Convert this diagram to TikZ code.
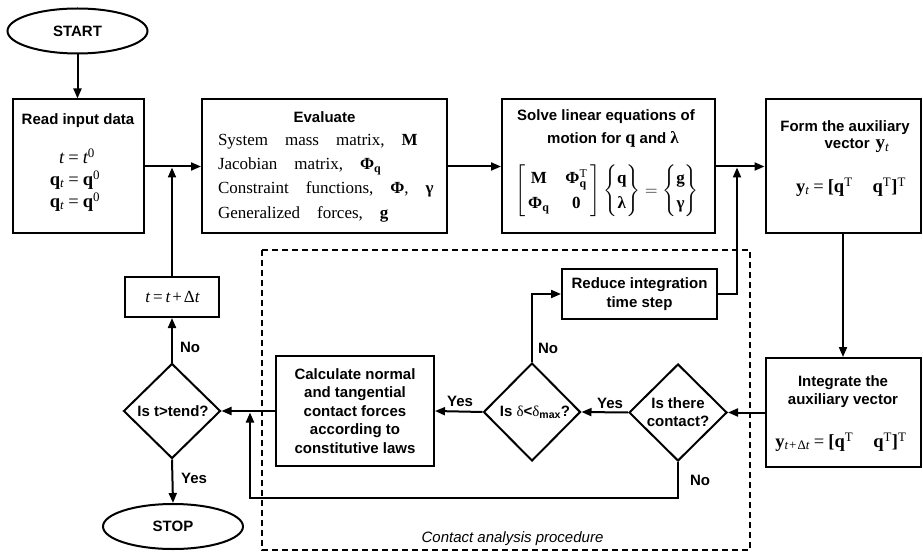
\documentclass[tikz,border=0pt]{standalone}
\usepackage{amsmath}
\usepackage{fontspec}
\setmainfont{Liberation Serif}
\setsansfont{Liberation Sans}
\usetikzlibrary{arrows.meta,shapes.geometric}
\newcommand\widesp{\spaceskip=17pt plus 3pt minus 2pt\relax}
\newcommand\eqs{\hspace{4pt}=\hspace{4pt}}
\begin{document}
\begin{tikzpicture}[x=1pt,y=-1pt,
  line width=2pt,
  arr/.style={-{Triangle[length=10pt,width=8pt]}},
  box/.style={draw, rectangle, inner sep=0pt},
  oval/.style={draw, ellipse, minimum width=140pt, minimum height=45pt, inner sep=0pt, font=\sffamily\bfseries\fontsize{15}{18}\selectfont},
  dia/.style={draw, diamond, inner sep=0pt},
  ttl/.style={font=\sffamily\bfseries\fontsize{15}{18.5}\selectfont, align=center, inner sep=0pt},
  ser/.style={font=\rmfamily\fontsize{17}{20}\selectfont, inner sep=0pt},
  serb/.style={font=\rmfamily\fontsize{18.5}{20}\selectfont, inner sep=0pt},
  lab/.style={font=\sffamily\bfseries\fontsize{15}{18}\selectfont, inner sep=0pt},
  dashbox/.style={draw, line width=1.4pt, dash pattern=on 6pt off 4pt},
]
\useasboundingbox (0,0) rectangle (923,553);

% dashed contact-analysis frame
\draw[dashbox] (262,250) rectangle (750,550);
\node[font=\sffamily\itshape\fontsize{15}{18}\selectfont, inner sep=0pt] (cap) at (512.5,539) {Contact analysis procedure};

% terminals
\node[oval] (start) at (77.5,31) {START};
\node[oval] (stop) at (173,526.5) {STOP};

% top row boxes
\node[box, minimum width=131pt, minimum height=134pt] (read) at (78.5,166.5) {};
\node[ttl] (readT) at (78,121) {Read input data};
\node[serb] (readM) at (75,181) {\renewcommand\arraystretch{1.1}%
  \begin{tabular}{@{}r@{\eqs}l@{}}
  {\itshape t} & {\itshape t}\textsuperscript{0}\\
  \textbf{q}\textsubscript{\itshape t} & \textbf{q}\textsuperscript{0}\\
  \textbf{q}\textsubscript{\itshape t} & \textbf{q}\textsuperscript{0}
  \end{tabular}};

\node[box, minimum width=245pt, minimum height=134pt] (eval) at (324.5,166.5) {};
\node[ttl] (evalT) at (324.5,117) {Evaluate};
\node[ser, anchor=west, align=left, font=\rmfamily\fontsize{17}{24.3}\selectfont] (evalL) at (217,178) {\widesp
  System mass matrix, \textbf{M}\\
  \widesp Jacobian matrix, \textbf{Φ}$_{\text{\bfseries q}}$\\
  \widesp Constraint functions, \textbf{Φ}, \textbf{γ}\\
  \widesp Generalized forces, \textbf{g}};

\node[box, minimum width=213pt, minimum height=134pt] (solve) at (608.5,166.5) {};
\node[ttl] (solveT1) at (606,117) {Solve linear equations of};
\node[ttl] (solveT2) at (613,139) {motion for {\rmfamily\fontsize{18}{18}\selectfont q} and {\rmfamily\fontsize{17}{18}\selectfont λ}};
\node[ser] (solveM) at (607,191) {$\renewcommand\arraystretch{1.25}\setlength\arraycolsep{8pt}%
  \left[\begin{array}{@{\,}cc@{\,}}
  \text{\bfseries M} & \text{\bfseries Φ}^{\text{T}}_{\text{\bfseries q}}\\
  \text{\bfseries Φ}_{\text{\bfseries q}} & \text{\bfseries 0}
  \end{array}\right]
  \left\{\begin{array}{@{}c@{}}\text{\bfseries q}\\ \text{\bfseries λ}\end{array}\right\}
  =
  \left\{\begin{array}{@{}c@{}}\text{\bfseries g}\\ \text{\bfseries γ}\end{array}\right\}$};

\node[box, minimum width=155pt, minimum height=134pt] (form) at (843,166.5) {};
\node[ttl] (formT1) at (845,128) {Form the auxiliary};
\node[ttl] (formT2) at (857,146) {vector\hspace{6pt}{\rmfamily\fontsize{19}{18}\selectfont\textbf{y}\textsubscript{\itshape\mdseries t}}};
\node[serb] (formM) at (851,187) {\textbf{y}\textsubscript{\itshape t}\eqs\textbf{[q}\textsuperscript{T}\hspace{20pt}\textbf{q}\textsuperscript{T}\textbf{]}\textsuperscript{T}};

% right column
\node[box, minimum width=155pt, minimum height=109pt] (integ) at (843,412.5) {};
\node[ttl] (integT) at (843,391.5) {Integrate the\\auxiliary vector};
\node[serb] (integM) at (841,442) {\textbf{y}\textsubscript{\itshape t+}\textsubscript{Δ\itshape t}\eqs\textbf{[q}\textsuperscript{T}\hspace{20pt}\textbf{q}\textsuperscript{T}\textbf{]}\textsuperscript{T}};

% contact analysis
\node[box, ttl, minimum width=155pt, minimum height=50pt] (reduce) at (639.5,294) {Reduce integration\\time step};
\node[box, ttl, minimum width=158pt, minimum height=110pt] (calc) at (355,411) {Calculate normal\\and tangential\\contact forces\\according to\\constitutive laws};
\node[dia, minimum width=97pt, minimum height=98pt] (delta) at (532,412) {};
\node[lab] (deltaT) at (535,412) {Is {\rmfamily\mdseries δ}<{\rmfamily\mdseries δ}\textsubscript{max}?};
\node[dia, minimum width=98pt, minimum height=97pt] (contact) at (678,412.5) {};
\node[lab, align=center] (contactT) at (678,412) {Is there\\contact?};

% left column
\node[box, minimum width=94pt, minimum height=40pt] (tdt) at (172,297) {};
\node[ser] (tdtT) at (172.5,297) {{\itshape t}\hspace{3pt}=\hspace{3pt}{\itshape t}\hspace{2pt}+\hspace{2pt}Δ{\itshape t}};
\node[dia, minimum width=97pt, minimum height=95pt] (tend) at (172,411) {};
\node[lab] (tendT) at (173,411) {Is t>tend?};

% junction points
\coordinate (j1) at (172,167.5);
\coordinate (j2) at (737,167.5);
\coordinate (j3) at (250,412.5);
\coordinate (nb) at (250,498);

% connectors
\draw[arr] (start.south) -- (start.south |- read.north);
\draw[arr] (read.east) -- (eval.west);
\draw[arr] (eval.east) -- (solve.west);
\draw[arr] (solve.east) -- (form.west);
\draw[arr] (form.south) -- (integ.north);
\draw[arr] (integ.west) -- (contact.east);
\draw[arr] (contact.west) -- (delta.east);
\draw[arr] (delta.west) -- (calc.east);
\draw[arr] (calc.west) -- (tend.east);
\draw[arr] (delta.north) |- (reduce.west);
\draw[arr] (reduce.east) -| (j2);
\draw[arr] (contact.south) |- (nb) -- (j3);
\draw[arr] (tend.north) -- (tdt.south);
\draw[arr] (tdt.north) -- (j1);
\draw[arr] (tend.south) -- (stop.north);

% branch labels
\node[lab] (no1) at (190,347) {No};
\node[lab] (yes1) at (194,478) {Yes};
\node[lab] (yes2) at (460,401) {Yes};
\node[lab] (no2) at (548,348) {No};
\node[lab] (yes3) at (610,403) {Yes};
\node[lab] (no3) at (700,480) {No};
\end{tikzpicture}
\end{document}
